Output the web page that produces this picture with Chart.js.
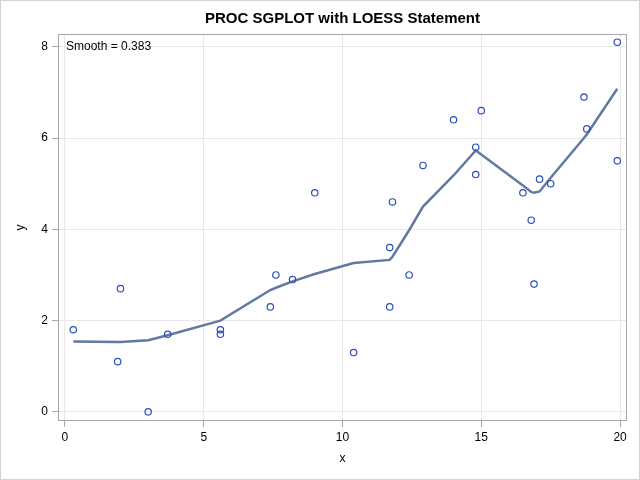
<!DOCTYPE html>
<html>
<head>
<meta charset="utf-8">
<script src="https://cdn.jsdelivr.net/npm/chart.js@4/dist/chart.umd.min.js"></script>
<style>
  body { margin: 0; background: #fff; }
  #wrap { width: 640px; height: 480px; }
</style>
</head>
<body>
<div id="wrap"><canvas id="myChart" width="640" height="480"></canvas></div>
<script>
// observed points
const xVals = [0.3, 1.9, 2.0, 3.0, 3.7, 5.6, 5.6, 7.4, 7.6, 8.2, 9.0, 10.4, 11.7, 11.7, 11.8,
  12.4, 12.9, 14.0, 14.8, 14.8, 15.0, 16.5, 16.8, 16.9, 17.1, 17.5, 18.7, 18.8, 19.9, 19.9];
const yVals = [1.8, 1.1, 2.7, 0.0, 1.7, 1.8, 1.7, 2.3, 3.0, 2.9, 4.8, 1.3, 3.6, 2.3, 4.6,
  3.0, 5.4, 6.4, 5.8, 5.2, 6.6, 4.8, 4.2, 2.8, 5.1, 5.0, 6.9, 6.2, 8.1, 5.5];

// loess fit
const fitX = [0.3, 1.9, 2.0, 3.0, 3.7, 5.6, 7.4, 7.6, 8.2, 9.0, 10.4, 11.7, 11.8, 12.4, 12.9,
  14.0, 14.8, 15.0, 16.5, 16.8, 16.9, 17.1, 17.5, 18.7, 18.8, 19.9];
const fitY = [1.54, 1.53, 1.53, 1.57, 1.68, 2.00, 2.67, 2.72, 2.86, 3.02, 3.26, 3.33, 3.40, 3.98, 4.50,
  5.18, 5.73, 5.64, 4.96, 4.82, 4.80, 4.83, 5.13, 6.00, 6.08, 7.08];

const xTicks = [0, 5, 10, 15, 20];
const yTicks = [0, 2, 4, 6, 8];
const titleText = 'PROC SGPLOT with LOESS Statement';
const insetText = 'Smooth = 0.383';

const FONT = '"Liberation Sans", Arial, sans-serif';

const framePlugin = {
  id: 'frame',
  afterDraw(chart) {
    const c = chart.ctx, a = chart.chartArea;
    c.save();
    c.strokeStyle = '#a3a7ae';
    c.lineWidth = 1;
    c.strokeRect(Math.round(a.left) + 0.5, Math.round(a.top) + 0.5,
      Math.round(a.right - a.left) - 1, Math.round(a.bottom - a.top) - 1);
    c.strokeStyle = '#d4d4d4';
    c.strokeRect(0.5, 0.5, chart.width - 1, chart.height - 1);
    c.fillStyle = '#000';
    c.font = 'bold 15px ' + FONT;
    c.textAlign = 'center';
    c.textBaseline = 'middle';
    c.fillText(titleText, (a.left + a.right) / 2, 19);
    c.font = '12px ' + FONT;
    c.textAlign = 'left';
    c.fillText(insetText, a.left + 8, a.top + 13);
    c.restore();
  }
};

const ctx = document.getElementById('myChart');

const myChart = new Chart(ctx, {
  type: 'scatter',
  data: {
    datasets: [{
      type: 'scatter',
      data: xVals.map((x, i) => ({ x: x, y: yVals[i] })),
      borderColor: '#2a4fba',
      backgroundColor: 'rgba(0,0,0,0)',
      borderWidth: 1.2,
      pointRadius: 3.2,
      order: 1
    }, {
      type: 'line',
      data: fitX.map((x, i) => ({ x: x, y: fitY[i] })),
      borderColor: '#6279a1',
      borderWidth: 2.5,
      pointRadius: 0,
      tension: 0,
      fill: false,
      order: 2
    }]
  },
  options: {
    responsive: false,
    animation: false,
    layout: { padding: { top: 34, right: 13, left: 0, bottom: 0 } },
    plugins: {
      legend: { display: false },
      tooltip: { enabled: false },
      title: { display: false }
    },
    scales: {
      x: {
        type: 'linear',
        min: -0.25,
        max: 20.25,
        afterBuildTicks: (s) => { s.ticks = xTicks.map(v => ({ value: v })); },
        afterFit: (s) => { s.height = 59; },
        grid: { color: '#e8e8e8', tickColor: '#a3a7ae', tickLength: 6 },
        border: { display: false },
        ticks: { color: '#000', font: { family: FONT, size: 12 }, padding: 3, maxRotation: 0 },
        title: { display: true, text: 'x', color: '#000', font: { family: FONT, size: 12 }, padding: { top: 4, bottom: 14 } }
      },
      y: {
        type: 'linear',
        min: -0.2,
        max: 8.28,
        afterBuildTicks: (s) => { s.ticks = yTicks.map(v => ({ value: v })); },
        afterFit: (s) => { s.width = 58; },
        grid: { color: '#e8e8e8', tickColor: '#a3a7ae', tickLength: 6 },
        border: { display: false },
        ticks: { color: '#000', font: { family: FONT, size: 12 }, padding: 4 },
        title: { display: true, text: 'y', color: '#000', font: { family: FONT, size: 12 }, padding: { top: 13, bottom: 4 } }
      }
    }
  },
  plugins: [framePlugin]
});
</script>
</body>
</html>
